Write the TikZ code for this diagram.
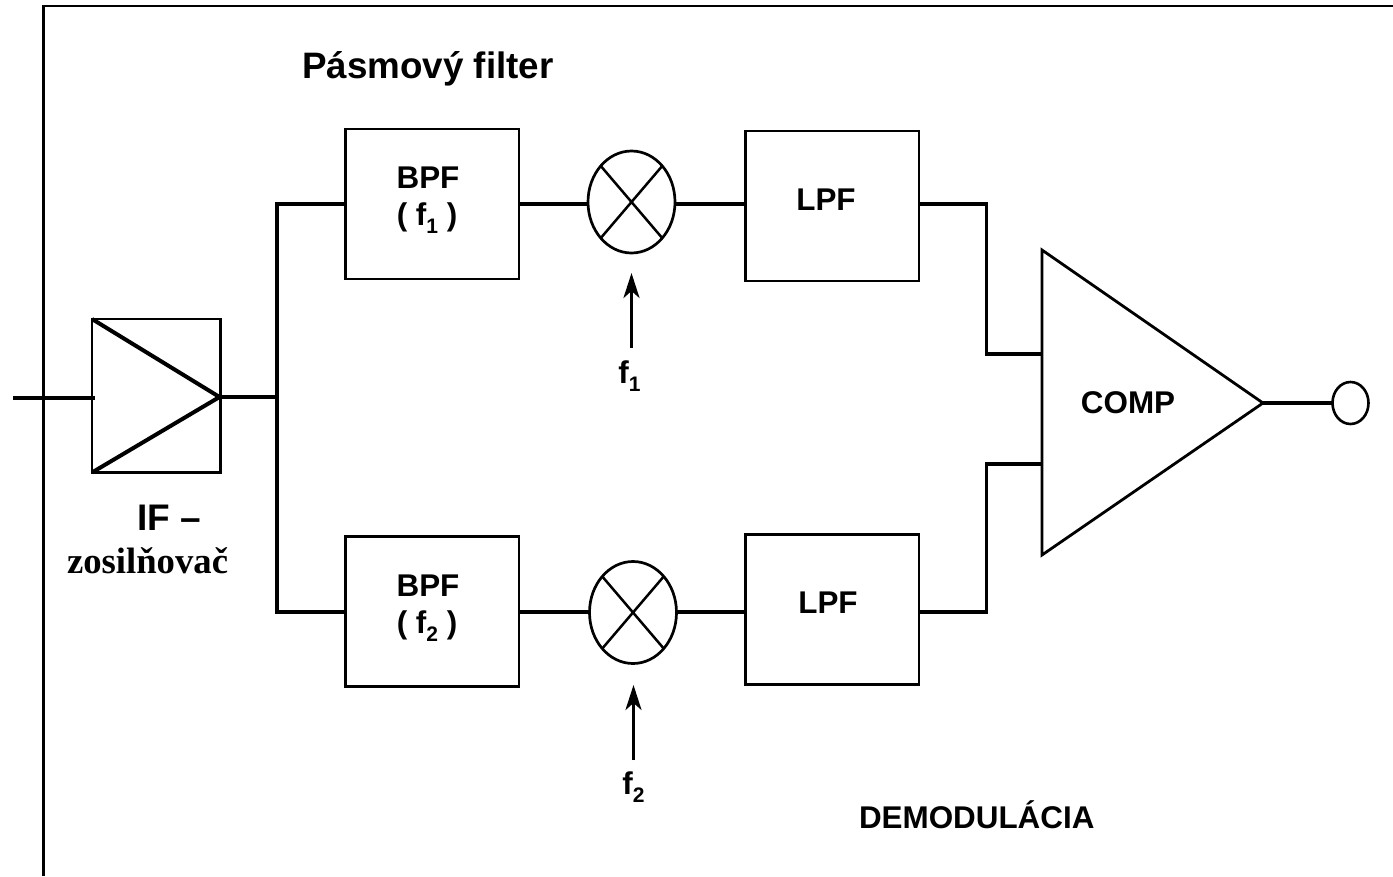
\documentclass[tikz,border=0pt]{standalone}
\usepackage{fontspec}
\setmainfont{Liberation Sans}
\newfontfamily\serifb{Liberation Serif}[BoldFont={Liberation Serif Bold}]
\usetikzlibrary{shapes.geometric,arrows.meta}
\tikzset{
  every node/.style={outer sep=0pt},
  thinl/.style={line width=2.5pt,draw=black},
  thickl/.style={line width=4pt,draw=black},
  wire/.style={line width=3.2pt,draw=black},
  blockbox/.style={draw=black,line width=2.7pt,minimum width=173.5pt,minimum height=150pt,inner sep=0pt,anchor=north west},
  mixer/.style={ellipse,draw=black,line width=2.7pt,minimum width=87pt,minimum height=102pt,inner sep=0pt},
  lbl/.style={font=\bfseries\fontsize{31.4}{33}\selectfont,inner sep=0pt,align=center},
  pin/.style={line width=3pt,draw=black,-{Stealth[length=25pt,width=16pt,inset=7pt]}},
}
\newcommand{\subn}[1]{\raisebox{-8.5pt}{\fontsize{21}{21}\selectfont #1}}
\begin{document}
\begin{tikzpicture}[x=1pt,y=-1pt]
\useasboundingbox (0,0) rectangle (1393,876);
% frame
\coordinate (fb) at (43.5,876);
\coordinate (ft) at (43.5,6);
\coordinate (fr) at (1393,6);
\draw[thinl,line cap=butt] (fb) -- (ft) -- (fr);
% amplifier
\node[draw=black,line width=2.4pt,minimum width=128.5pt,minimum height=153.5pt,inner sep=0pt,anchor=north west] (amp) at (92,319) {};
\coordinate (ampo) at (219.5,397);
\coordinate (in) at (13,398);
\coordinate (ampi) at (95,398);
\draw[thickl,line join=miter] (amp.north west) -- (ampo) -- (amp.south west);
\draw[thickl] (in) -- (ampi);
% blocks
\node[blockbox] (b1) at (345.5,129) {};
\node[blockbox] (l1) at (745.5,131) {};
\node[blockbox] (b2) at (345.5,536.5) {};
\node[blockbox] (l2) at (745.5,534.5) {};
\node[mixer] (m1) at (631.5,202) {};
\node[mixer] (m2) at (633,612.5) {};
\draw[thinl] (m1.north west) -- (m1.south east) (m1.north east) -- (m1.south west);
\draw[thinl] (m2.north west) -- (m2.south east) (m2.north east) -- (m2.south west);
% comparator
\coordinate (ct) at (1042,250);
\coordinate (cb) at (1042,555);
\coordinate (co) at (1263,403);
\draw[line width=2.8pt,line join=miter] (ct) -- (co) -- (cb) -- cycle;
\coordinate (ci1) at (1042,354);
\coordinate (ci2) at (1042,464);
\node[ellipse,draw=black,line width=2.6pt,minimum width=36pt,minimum height=42pt,inner sep=0pt] (out) at (1350.5,403) {};
% wires
\coordinate (bus1) at (276.5,204);
\coordinate (bus2) at (276.5,612);
\coordinate (busm) at (276.5,397);
\coordinate (wy1) at (0,204);
\coordinate (wy2) at (0,612);
\draw[thickl,line join=miter] (b1.west |- bus1) -- (bus1) -- (bus2) -- (b2.west |- bus2);
\draw[wire] (ampo) -- (busm);
\draw[wire] (b1.east |- wy1) -- (m1.west |- wy1);
\draw[wire] (m1.east |- wy1) -- (l1.west |- wy1);
\draw[wire] (b2.east |- wy2) -- (m2.west |- wy2);
\draw[wire] (m2.east |- wy2) -- (l2.west |- wy2);
\coordinate (j1) at (986.5,204);
\coordinate (j1b) at (986.5,354);
\coordinate (j2) at (986.5,464);
\coordinate (j2b) at (986.5,612);
\draw[wire,line join=miter] (l1.east |- j1) -- (j1) -- (j1b) -- (ci1);
\draw[wire,line join=miter] (l2.east |- j2b) -- (j2b) -- (j2) -- (ci2);
\draw[wire] (co) -- (out.west);
% pins
\coordinate (p1s) at (631.5,348);
\coordinate (p1e) at (631.5,273);
\coordinate (p2s) at (633.5,760);
\coordinate (p2e) at (633.5,685);
\draw[pin] (p1s) -- (p1e);
\draw[pin] (p2s) -- (p2e);
% labels
\node[lbl,font=\bfseries\fontsize{36.8}{38}\selectfont,anchor=base west] (t1) at (302,78) {Pásmový filter};
\node[lbl,anchor=base] (tb1) at (428,188) {BPF};
\node[lbl,anchor=base] (tb1b) at (427,225) {( f\subn{1} )};
\node[lbl,anchor=base] (tb2) at (428,596) {BPF};
\node[lbl,anchor=base] (tb2b) at (427,633) {( f\subn{2} )};
\node[lbl,anchor=base] (tl1) at (826,210) {LPF};
\node[lbl,anchor=base] (tl2) at (828,613) {LPF};
\node[lbl,anchor=base] (tc) at (1128,413) {COMP};
\node[lbl,anchor=base] (tf1) at (629.5,383) {f\subn{1}};
\node[lbl,anchor=base] (tf2) at (633.5,794) {f\subn{2}};
\node[lbl,font=\bfseries\fontsize{37}{38}\selectfont,anchor=base west] (tif) at (137,530) {IF –};
\node[lbl,font=\serifb\bfseries\fontsize{36.7}{38}\selectfont,anchor=base west] (tz) at (67,573) {zosilňovač};
\node[lbl,anchor=base west] (td) at (859,828) {DEMODULÁCIA};
\end{tikzpicture}
\end{document}
